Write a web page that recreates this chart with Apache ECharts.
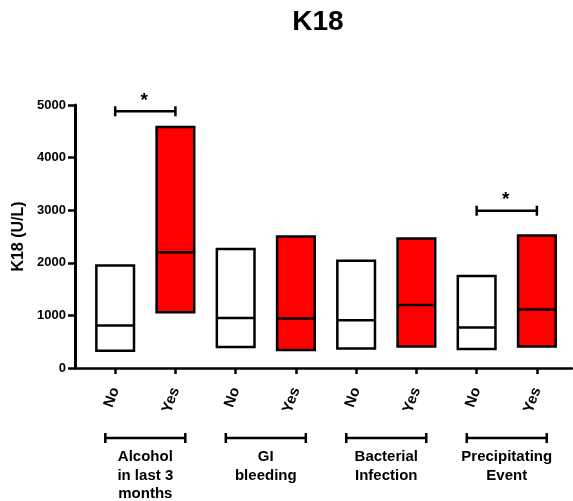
<!DOCTYPE html>
<html>
<head>
<meta charset="utf-8">
<style>
  html, body { margin: 0; padding: 0; background: #fff; }
  #chart { width: 573px; height: 501px; }
</style>
<script src="https://cdn.jsdelivr.net/npm/echarts@6/dist/echarts.min.js"></script>
</head>
<body>
<div id="chart"></div>
<script>
// Floating bars: low / median / high K18 (U/L) for each subgroup
const categories = ['No', 'Yes', 'No', 'Yes', 'No', 'Yes', 'No', 'Yes'];
const boxLow = [330, 1060, 400, 340, 370, 410, 360, 410];
const boxMedian = [810, 2200, 950, 940, 910, 1200, 770, 1110];
const boxHigh = [1950, 4580, 2260, 2500, 2040, 2460, 1750, 2520];
const groupNames = ['Alcohol\nin last 3\nmonths', 'GI\nbleeding', 'Bacterial\nInfection', 'Precipitating\nEvent'];
const groupSpans = [[1, 2], [3, 4], [5, 6], [7, 8]];
// Significance bars: [from, to, height, marker]
const significance = [[1, 2, 4880, '*'], [7, 8, 2990, '*']];
const yTicks = [0, 1000, 2000, 3000, 4000, 5000];

const FONT = '"Liberation Sans", Arial, Helvetica, sans-serif';
const positions = categories.map((_, i) => i + 1);

const boxData = categories.map((c, i) => [i + 1, boxLow[i], boxMedian[i], boxHigh[i], c === 'Yes' ? 1 : 0]);
const groupData = groupSpans.map((s, i) => [s[0], s[1], groupNames[i]]);

const chart = echarts.init(document.getElementById('chart'), null, { renderer: 'canvas' });

chart.setOption({
  backgroundColor: '#ffffff',
  animation: false,
  title: {
    text: 'K18',
    left: 313,
    top: 3,
    textAlign: 'center',
    textStyle: { fontFamily: FONT, fontSize: 28, fontWeight: 'bold', color: '#000' }
  },
  grid: { left: 75, right: 1, top: 105, bottom: 133, containLabel: false },
  xAxis: {
    type: 'value',
    min: 0.333,
    max: 8.583,
    splitLine: { show: false },
    axisLine: { show: true, onZero: false, lineStyle: { color: '#000', width: 2.5 } },
    axisTick: { show: true, customValues: positions, length: 6, lineStyle: { color: '#000', width: 2.5 } },
    axisLabel: {
      customValues: positions,
      formatter: v => categories[Math.round(v) - 1] || '',
      rotate: 70,
      margin: 20,
      fontFamily: FONT, fontSize: 15, fontWeight: 'bold', color: '#000'
    }
  },
  yAxis: {
    type: 'value',
    min: yTicks[0],
    max: yTicks[yTicks.length - 1],
    interval: 1000,
    name: 'K18 (U/L)',
    nameLocation: 'middle',
    nameGap: 38,
    nameTextStyle: { fontFamily: FONT, fontSize: 16, fontWeight: 'bold', color: '#000' },
    splitLine: { show: false },
    axisLine: { show: true, onZero: false, lineStyle: { color: '#000', width: 3, opacity: 1 } },
    axisTick: { show: true, length: 7, lineStyle: { color: '#000', width: 2.5 } },
    axisLabel: {
      margin: 9,
      formatter: v => String(v),
      fontFamily: FONT, fontSize: 13, fontWeight: 'bold', color: '#000'
    }
  },
  series: [
    {
      // low–high boxes with a median line
      type: 'custom',
      data: boxData,
      renderItem: function (params, api) {
        const x = api.value(0);
        const pLo = api.coord([x, api.value(1)]);
        const pMed = api.coord([x, api.value(2)]);
        const pHi = api.coord([x, api.value(3)]);
        const w = api.size([0.625, 0])[0];
        const fill = api.value(4) === 1 ? '#ff0000' : '#ffffff';
        return {
          type: 'group',
          children: [
            {
              type: 'rect',
              shape: { x: pLo[0] - w / 2, y: pHi[1], width: w, height: pLo[1] - pHi[1] },
              style: { fill: fill, stroke: '#000', lineWidth: 2.5 }
            },
            {
              type: 'line',
              shape: { x1: pLo[0] - w / 2, y1: pMed[1], x2: pLo[0] + w / 2, y2: pMed[1] },
              style: { stroke: '#000', lineWidth: 2.5 }
            }
          ]
        };
      }
    },
    {
      // significance brackets with asterisk
      type: 'custom',
      data: significance,
      clip: false,
      renderItem: function (params, api) {
        const p1 = api.coord([api.value(0), api.value(2)]);
        const p2 = api.coord([api.value(1), api.value(2)]);
        const cap = 5;
        return {
          type: 'group',
          children: [
            { type: 'line', shape: { x1: p1[0], y1: p1[1], x2: p2[0], y2: p2[1] }, style: { stroke: '#000', lineWidth: 2.5 } },
            { type: 'line', shape: { x1: p1[0], y1: p1[1] - cap, x2: p1[0], y2: p1[1] + cap }, style: { stroke: '#000', lineWidth: 2.5 } },
            { type: 'line', shape: { x1: p2[0], y1: p2[1] - cap, x2: p2[0], y2: p2[1] + cap }, style: { stroke: '#000', lineWidth: 2.5 } },
            {
              type: 'text',
              style: {
                text: significance[params.dataIndex][3],
                x: (p1[0] + p2[0]) / 2 - 1, y: p1[1] - 1,
                align: 'center', verticalAlign: 'bottom',
                font: 'bold 19px ' + FONT, fill: '#000'
              }
            }
          ]
        };
      }
    },
    {
      // group brackets and group names under the axis
      type: 'custom',
      data: groupData,
      clip: false,
      renderItem: function (params, api) {
        const a = api.coord([api.value(0), 0]);
        const b = api.coord([api.value(1), 0]);
        const cx = (a[0] + b[0]) / 2;
        const half = 40;
        const y = a[1] + 70;
        const cap = 5;
        return {
          type: 'group',
          children: [
            { type: 'line', shape: { x1: cx - half, y1: y, x2: cx + half, y2: y }, style: { stroke: '#000', lineWidth: 2.5 } },
            { type: 'line', shape: { x1: cx - half, y1: y - cap, x2: cx - half, y2: y + cap }, style: { stroke: '#000', lineWidth: 2.5 } },
            { type: 'line', shape: { x1: cx + half, y1: y - cap, x2: cx + half, y2: y + cap }, style: { stroke: '#000', lineWidth: 2.5 } },
            {
              type: 'text',
              style: {
                text: groupData[params.dataIndex][2],
                x: cx, y: y + 10,
                align: 'center', verticalAlign: 'top',
                lineHeight: 18.5,
                font: 'bold 15px ' + FONT, fill: '#000'
              }
            }
          ]
        };
      }
    }
  ]
});
</script>
</body>
</html>
